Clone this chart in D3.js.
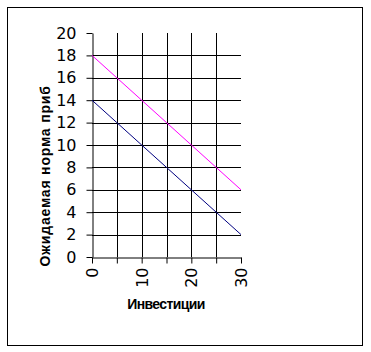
<!DOCTYPE html>
<html><head><meta charset="utf-8">
<script src="https://cdn.jsdelivr.net/npm/d3@7/dist/d3.min.js"></script>
<style>body{margin:0;background:#fff}svg{display:block}</style>
</head><body>
<script>
const investments = [0, 5, 10, 15, 20, 25, 30];
const seriesA = [18, 16, 14, 12, 10, 8, 6];   // magenta
const seriesB = [14, 12, 10, 8, 6, 4, 2];     // navy
const xTicks = [0, 5, 10, 15, 20, 25, 30];
const xTickLabels = [0, 10, 20, 30];
const yTicks = [0, 2, 4, 6, 8, 10, 12, 14, 16, 18, 20];
const xTitle = "Инвестиции";
const yTitle = "Ожидаемая норма приб";

const W = 371, H = 352;
const svg = d3.select("body").append("svg").attr("width", W).attr("height", H);
svg.append("rect").attr("x", 7.5).attr("y", 7.5).attr("width", 355).attr("height", 338)
  .attr("fill", "#fff").attr("stroke", "#000").attr("stroke-width", 1);

const x = d3.scaleLinear().domain([0, 30]).range([92, 241]);
const y = d3.scaleLinear().domain([0, 20]).range([257, 33]);

const g = svg.append("g").attr("shape-rendering", "crispEdges");
g.selectAll(".hg").data(yTicks.filter(v => v > 0 && v < 20)).enter().append("line")
  .attr("x1", x(0)).attr("x2", x(30)).attr("y1", d => Math.round(y(d)) + 0.5).attr("y2", d => Math.round(y(d)) + 0.5)
  .attr("stroke", "#000");
g.selectAll(".vg").data(xTicks.filter(v => v > 0 && v < 30)).enter().append("line")
  .attr("y1", y(20)).attr("y2", y(0)).attr("x1", d => Math.round(x(d)) + 0.5).attr("x2", d => Math.round(x(d)) + 0.5)
  .attr("stroke", "#000");

const yAxis = d3.axisLeft(y).tickValues(yTicks).tickSize(6).tickPadding(10).tickSizeOuter(0);
const ya = svg.append("g").attr("transform", `translate(${Math.round(x(0)) + 0.5},0)`).call(yAxis);
ya.select(".domain").attr("stroke", "#000");
ya.selectAll("line").attr("stroke", "#000");
ya.selectAll("text").attr("font-family", "DejaVu Sans").attr("font-size", 16).attr("fill", "#000");

const xAxis = d3.axisBottom(x).tickValues(xTicks).tickSize(6).tickSizeOuter(0)
  .tickFormat(d => xTickLabels.includes(d) ? d : "");
const xa = svg.append("g").attr("transform", `translate(0,${Math.round(y(0)) + 0.5})`).call(xAxis);
xa.selectAll("line").attr("stroke", "#000");
xa.select(".domain").attr("stroke", "#000");
xa.selectAll("text").attr("font-family", "DejaVu Sans").attr("font-size", 16).attr("fill", "#000")
  .attr("transform", "rotate(-90)").attr("text-anchor", "end").attr("x", -10).attr("y", 0).attr("dy", "0.35em");

const line = d3.line().x((d, i) => x(investments[i])).y(d => y(d));
svg.append("path").datum(seriesA).attr("d", line).attr("fill", "none").attr("stroke", "#ff00ff").attr("stroke-width", 1);
svg.append("path").datum(seriesB).attr("d", line).attr("fill", "none").attr("stroke", "#000080").attr("stroke-width", 1);

svg.append("text").attr("x", 166).attr("y", 309).attr("text-anchor", "middle")
  .attr("font-family", "Liberation Sans").attr("font-weight", "bold").attr("font-size", 14)
  .attr("letter-spacing", "-0.6px").text(xTitle);
svg.append("text").attr("transform", "translate(50,176) rotate(-90)").attr("text-anchor", "middle")
  .attr("font-family", "Liberation Sans").attr("font-weight", "bold").attr("font-size", 14)
  .attr("letter-spacing", "0.8px").text(yTitle);
</script>
</body></html>
